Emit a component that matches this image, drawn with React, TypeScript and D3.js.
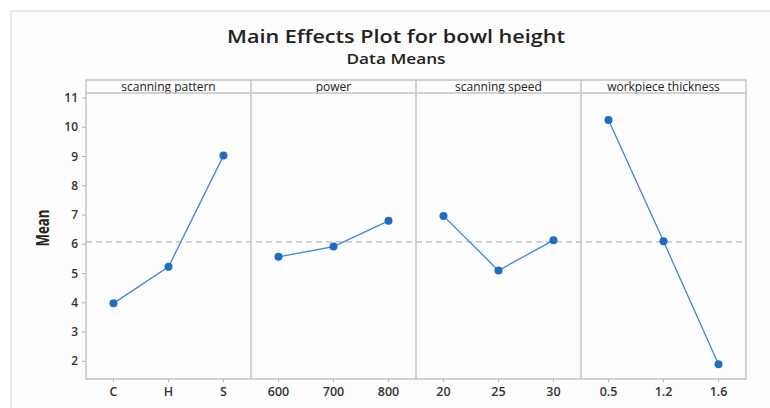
import * as d3 from "d3";

const factors = ["scanning pattern", "power", "scanning speed", "workpiece thickness"];
const patternLevels = ["C", "H", "S"];
const patternMeans = [3.98, 5.23, 9.03];
const powerLevels = ["600", "700", "800"];
const powerMeans = [5.57, 5.92, 6.8];
const speedLevels = ["20", "25", "30"];
const speedMeans = [6.97, 5.1, 6.14];
const thicknessLevels = ["0.5", "1.2", "1.6"];
const thicknessMeans = [10.25, 6.1, 1.9];
const grandMean = 6.08;
const yTicks = [2, 3, 4, 5, 6, 7, 8, 9, 10, 11];

const W = 770;
const H = 408;
const plotLeft = 86;
const plotRight = 746;
const plotTop = 80;
const headerBottom = 93;
const plotBottom = 379;

const FONT = "'Open Sans', 'DejaVu Sans', sans-serif";

export default function App() {
  const panels = [
    { levels: patternLevels, means: patternMeans },
    { levels: powerLevels, means: powerMeans },
    { levels: speedLevels, means: speedMeans },
    { levels: thicknessLevels, means: thicknessMeans },
  ];

  const panelScale = d3
    .scaleBand<string>()
    .domain(factors)
    .range([plotLeft, plotRight])
    .paddingInner(0)
    .paddingOuter(0);

  const y = d3.scaleLinear().domain([1.395, 11.17]).range([plotBottom, headerBottom]);

  const line = d3
    .line<[number, number]>()
    .x((d) => d[0])
    .y((d) => d[1]);

  return (
    <svg
      width={W}
      height={H}
      style={{ position: "absolute", left: 0, top: 0, background: "#fff" }}
    >
      {/* outer frame */}
      <rect x={11} y={11} width={W} height={H} fill="#fdfdfd" stroke="#dcdcdc" strokeWidth={1.2} />

      {/* titles */}
      <text
        x={396}
        y={43}
        textAnchor="middle"
        fontFamily={FONT}
        fontWeight={600}
        fontSize={18}
        fill="#222"
        textLength={338}
        lengthAdjust="spacingAndGlyphs"
      >
        Main Effects Plot for bowl height
      </text>
      <text
        x={396}
        y={64}
        textAnchor="middle"
        fontFamily={FONT}
        fontWeight={600}
        fontSize={14}
        fill="#222"
        textLength={99}
        lengthAdjust="spacingAndGlyphs"
      >
        Data Means
      </text>

      {/* y label */}
      <text
        transform={`translate(49,228) rotate(-90)`}
        textAnchor="middle"
        fontFamily={FONT}
        fontWeight={700}
        fontSize={17}
        fill="#222"
        textLength={37}
        lengthAdjust="spacingAndGlyphs"
      >
        Mean
      </text>

      {/* y ticks */}
      {yTicks.map((t) => (
        <g key={t}>
          <line x1={plotLeft - 4} x2={plotLeft} y1={y(t)} y2={y(t)} stroke="#b5b5b5" strokeWidth={1} />
          <text
            x={plotLeft - 8}
            y={y(t)}
            dy="0.35em"
            textAnchor="end"
            fontFamily={FONT}
            fontWeight={600}
            fontSize={12}
            fill="#333"
          >
            {t}
          </text>
        </g>
      ))}

      {/* reference line */}
      <line
        x1={plotLeft}
        x2={plotRight}
        y1={y(grandMean)}
        y2={y(grandMean)}
        stroke="#a8a8a8"
        strokeWidth={1}
        strokeDasharray="6,4"
      />

      {panels.map((p, i) => {
        const name = factors[i];
        const x0 = panelScale(name)!;
        const bw = panelScale.bandwidth();
        const x = d3.scalePoint<string>().domain(p.levels).range([x0, x0 + bw]).padding(0.5);
        const pts: [number, number][] = p.levels.map((l, j) => [x(l)!, y(p.means[j])]);
        return (
          <g key={name}>
            <text
              x={x0 + bw / 2}
              y={91}
              textAnchor="middle"
              fontFamily={FONT}
              fontSize={12}
              fill="#222"
            >
              {name}
            </text>
            {p.levels.map((l) => (
              <g key={l}>
                <line x1={x(l)} x2={x(l)} y1={plotBottom} y2={plotBottom + 3} stroke="#b5b5b5" />
                <text
                  x={x(l)}
                  y={392}
                  dy="0.35em"
                  textAnchor="middle"
                  fontFamily={FONT}
                  fontWeight={600}
                  fontSize={12.5}
                  fill="#333"
                >
                  {l}
                </text>
              </g>
            ))}
            <path d={line(pts) ?? ""} fill="none" stroke="#3f86d4" strokeWidth={1.3} />
            {pts.map((pt, j) => (
              <circle key={j} cx={pt[0]} cy={pt[1]} r={4} fill="#1e6cc3" />
            ))}
          </g>
        );
      })}

      {/* panel frames */}
      <rect
        x={plotLeft}
        y={plotTop}
        width={plotRight - plotLeft}
        height={plotBottom - plotTop}
        fill="none"
        stroke="#c4c4c4"
        strokeWidth={1.5}
      />
      <line x1={plotLeft} x2={plotRight} y1={headerBottom} y2={headerBottom} stroke="#c4c4c4" strokeWidth={1.5} />
      {factors.slice(1).map((f) => (
        <line
          key={f}
          x1={panelScale(f)}
          x2={panelScale(f)}
          y1={plotTop}
          y2={plotBottom}
          stroke="#c4c4c4"
          strokeWidth={1.5}
        />
      ))}
    </svg>
  );
}
